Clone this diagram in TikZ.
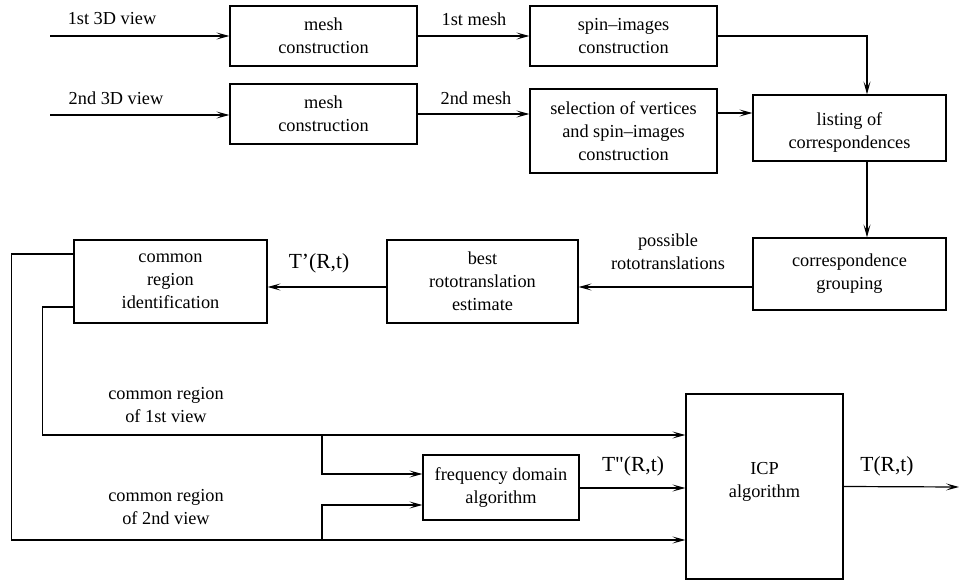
\documentclass[tikz,border=0pt]{standalone}
\usepackage{fontspec}
\setmainfont{Liberation Serif}
\newfontfamily\rawserif[Ligatures=TeXOff]{Liberation Serif}
\usetikzlibrary{arrows.meta}
\begin{document}
\begin{tikzpicture}[x=1pt,y=-1pt,
  font=\fontsize{18.3}{23}\selectfont,
  box/.style={draw, line width=1.2pt, align=center, inner sep=0pt},
  lbl/.style={align=center, inner sep=0pt},
  tlbl/.style={inner sep=0pt, font=\fontsize{21.5}{26}\selectfont},
  flow/.style={line width=1.2pt, -{Stealth[length=13pt,width=7pt,inset=6pt]}}]
\useasboundingbox (0,0) rectangle (959,580);

% processing blocks
\node[box, minimum width=187pt, minimum height=60pt] (m1) at (323.5,36) {mesh\\construction};
\node[box, minimum width=187pt, minimum height=60pt] (sp) at (623.5,36) {spin--images\\construction};
\node[box, minimum width=187pt, minimum height=60pt] (m2) at (323.5,114) {mesh\\construction};
\node[box, minimum width=187pt, minimum height=84pt] (sel) at (623.5,131) {selection of vertices\\and spin--images\\construction};
\node[box, minimum width=193pt, minimum height=66pt] (lst) at (849.5,128) {};
\node[lbl] (lsttext) at (849.5,133) {listing of\\correspondences};
\node[box, minimum width=193pt, minimum height=72pt] (cg) at (849.5,274) {correspondence\\grouping};
\node[box, minimum width=191pt, minimum height=83pt] (best) at (482.5,281.5) {best\\rototranslation\\estimate};
\node[box, minimum width=193pt, minimum height=83pt] (com) at (170.5,281.5) {common\\region\\identification};
\node[box, minimum width=156pt, minimum height=65pt] (freq) at (501,487.5) {frequency domain\\algorithm};
\node[box, minimum width=157pt, minimum height=185pt] (icp) at (764.5,486.5) {};
\node[lbl] (icptext) at (764.5,482) {ICP\\algorithm};

% free ends and branch points
\coordinate (in1) at (50,36);
\coordinate (in2) at (50,115);
\coordinate (b1) at (322,435);
\coordinate (b2) at (322,540);
\coordinate (out) at (959,487);

% connectors
\draw[flow] (in1) -- (m1.west);
\draw[flow] (in2) -- ([yshift=-1pt]m2.west);
\draw[flow] (m1.east) -- (sp.west);
\draw[flow] (m2.east) -- (m2.east -| sel.west);
\draw[flow] (sp.east) -| ([xshift=17.5pt]lst.north);
\draw[flow] ([yshift=18pt]sel.east) -- ([yshift=18pt]sel.east -| lst.west);
\draw[flow] ([xshift=17.5pt]lst.south) -- ([xshift=17.5pt]cg.north);
\draw[flow] ([yshift=-13pt]cg.west) -- ([yshift=-13pt]cg.west -| best.east);
\draw[flow] ([yshift=-5.5pt]best.west) -- ([yshift=-5.5pt]best.west -| com.east);
\draw[flow] ([yshift=27.5pt]com.west) -- ++(-62,0) |- ([yshift=-53.5pt]icp.west);
\draw[flow] ([yshift=-25.5pt]com.west) -- ++(-31,0) |- ([yshift=51.5pt]icp.west);
\draw[flow] (b1) |- ([yshift=13.5pt]freq.west);
\draw[flow] (b2) |- ([yshift=-17.5pt]freq.west);
\draw[flow] ([yshift=-0.5pt]freq.east) -- ([yshift=-0.5pt]freq.east -| icp.west);
\draw[flow] (icp.east) -- (out);

% connector labels
\node[lbl] (l1) at (112,19) {1st 3D view};
\node[lbl] (l2) at (116,98) {2nd 3D view};
\node[lbl] (l3) at (474,19) {1st mesh};
\node[lbl] (l4) at (476,98) {2nd mesh};
\node[lbl] (l5) at (668,252) {possible\\rototranslations};
\node[tlbl] (l6) at (319,263) {T’(R,t)};
\node[lbl] (l7) at (166,405) {common region\\of 1st view};
\node[lbl] (l8) at (166,507) {common region\\of 2nd view};
\node[tlbl, font=\rawserif\fontsize{21.5}{26}\selectfont] (l9) at (633,466) {T"(R,t)};
\node[tlbl] (l10) at (887,466) {T(R,t)};
\end{tikzpicture}
\end{document}
